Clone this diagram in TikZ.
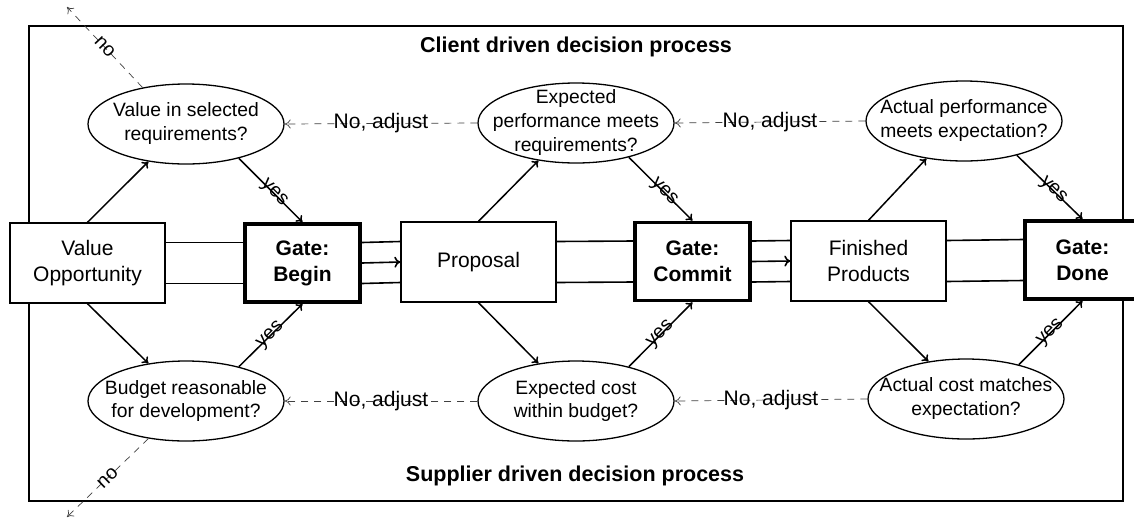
\documentclass[tikz,border=0pt]{standalone}
\usepackage{fontspec}
\setmainfont{Liberation Sans}
\usetikzlibrary{shapes.geometric,arrows.meta}
\begin{document}
\begin{tikzpicture}[x=1pt,y=-1pt,
  box/.style={draw, line width=1.4pt, fill=white, minimum width=155pt, minimum height=80pt,
    inner sep=0pt, align=center, font=\fontsize{21}{26}\selectfont},
  gatebox/.style={box, line width=3.8pt, minimum width=115pt, minimum height=78pt,
    font=\fontsize{21}{26}\selectfont\bfseries},
  query/.style={draw, ellipse, line width=1.3pt, fill=white, minimum width=196pt,
    minimum height=80pt, inner sep=0pt},
  querytext/.style={inner sep=0pt, align=center, font=\fontsize{19.3}{24}\selectfont},
  title/.style={inner sep=0pt, font=\fontsize{21.5}{26}\selectfont\bfseries},
  track/.style={line width=1.6pt},
  flow/.style={line width=1.5pt, -{To[length=6pt,width=9pt]}},
  feedback/.style={line width=0.7pt, black!75, dash pattern=on 7pt off 6pt,
    -{To[length=6pt,width=9pt]}},
  tag/.style={inner sep=0pt, font=\fontsize{19.5}{22}\selectfont, text=black},
  adjust/.style={inner sep=0pt, font=\fontsize{21}{24}\selectfont, text=black}]

\useasboundingbox (0,0) rectangle (1134,520);
\clip (0,0) rectangle (1134,520);

% outer frame
\draw[line width=1.5pt] (29,26) rectangle (1123,501);

% titles
\node[title] (client) at (576,47) {Client driven decision process};
\node[title] (supplier) at (575,476) {Supplier driven decision process};

% main flow of work products and gates
\node[box] (vo) at (87.5,263) {Value\\Opportunity};
\node[gatebox] (begin) at (302.5,263) {Gate:\\Begin};
\node[box] (prop) at (478.5,262) {Proposal};
\node[gatebox] (commit) at (692.5,261.5) {Gate:\\Commit};
\node[box] (fin) at (868.5,261) {Finished\\Products};
\node[gatebox] (done) at (1082.5,260) {Gate:\\Done};

% parallel tracks between the boxes
\foreach \a/\b in {vo/begin, begin/prop, prop/commit, commit/fin, fin/done}{
  \draw[track] ([yshift=20.5pt]\a.east) -- ([yshift=20.5pt]\b.west);
  \draw[track] ([yshift=-20.5pt]\a.east) -- ([yshift=-20.5pt]\b.west);
}
\draw[track, -{To[length=6pt,width=11pt]}] (begin.east) -- (prop.west);
\draw[track, -{To[length=6pt,width=11pt]}] (commit.east) -- (fin.west);

% client questions
\node[query] (e1) at (186,124) {};
\node[query] (e2) at (576,123) {};
\node[query] (e3) at (964,121) {};
\node[querytext] (t1) at (e1) {Value in selected\\requirements?};
\node[querytext] (t2) at (e2) {Expected\\performance meets\\requirements?};
\node[querytext] (t3) at (e3) {Actual performance\\meets expectation?};

% supplier questions
\node[query] (e4) at (186,401) {};
\node[query] (e5) at (576,401) {};
\node[query] (e6) at (966,399) {};
\node[querytext] (t4) at (e4) {Budget reasonable\\for development?};
\node[querytext] (t5) at (e5) {Expected cost\\within budget?};
\node[querytext] (t6) at (e6) {Actual cost matches\\expectation?};

% work product feeds both questions
\draw[flow] (vo.north) -- (e1.225);
\draw[flow] (vo.south) -- (e4.135);
\draw[flow] (prop.north) -- (e2.225);
\draw[flow] (prop.south) -- (e5.135);
\draw[flow] (fin.north) -- (e3.225);
\draw[flow] (fin.south) -- (e6.135);

% positive answers open the gate
\draw[flow] (e1.327) -- node[tag, sloped, pos=0.55]{yes} (begin.north);
\draw[flow] (e4.33) -- node[tag, sloped, pos=0.5]{yes} (begin.south);
\draw[flow] (e2.327) -- node[tag, sloped, pos=0.55]{yes} (commit.north);
\draw[flow] (e5.33) -- node[tag, sloped, pos=0.5]{yes} (commit.south);
\draw[flow] (e3.327) -- node[tag, sloped, pos=0.55]{yes} (done.north);
\draw[flow] (e6.33) -- node[tag, sloped, pos=0.5]{yes} (done.south);

% negative answers loop back
\draw[feedback] (e2.west) -- node[adjust]{No, adjust} (e1.east);
\draw[feedback] (e3.west) -- node[adjust]{No, adjust} (e2.east);
\draw[feedback] (e5.west) -- node[adjust]{No, adjust} (e4.east);
\draw[feedback] (e6.west) -- node[adjust]{No, adjust} (e5.east);

\coordinate (out1) at (67,7);
\coordinate (out2) at (67,517);
\draw[feedback] (e1.140) -- node[tag, sloped]{no} (out1);
\draw[feedback] (e4.225) -- node[tag, sloped]{no} (out2);
\end{tikzpicture}
\end{document}
